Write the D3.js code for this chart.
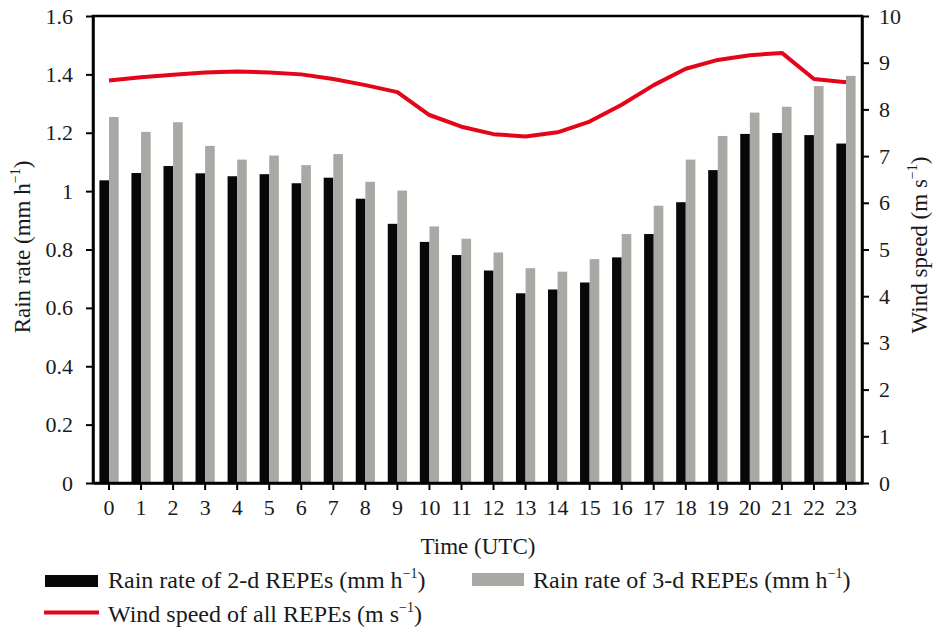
<!DOCTYPE html>
<html>
<head>
<meta charset="utf-8">
<script src="https://cdn.jsdelivr.net/npm/d3@7"></script>
<style>
  body { margin: 0; background: #fff; }
</style>
</head>
<body>
<svg id="chart" width="933" height="628"></svg>
<script>
// hours (UTC)
let hours = d3.range(0, 24);
// rain rate of 2-d REPEs (mm/h)
let rain2d = [1.037, 1.062, 1.086, 1.061, 1.051, 1.058, 1.027, 1.046, 0.974, 0.888, 0.826, 0.781,
              0.728, 0.650, 0.663, 0.687, 0.773, 0.853, 0.962, 1.072, 1.196, 1.199, 1.192, 1.163];
// rain rate of 3-d REPEs (mm/h)
let rain3d = [1.254, 1.203, 1.236, 1.155, 1.108, 1.122, 1.089, 1.127, 1.032, 1.002, 0.879, 0.837,
              0.790, 0.736, 0.724, 0.767, 0.853, 0.950, 1.108, 1.189, 1.269, 1.289, 1.360, 1.395];
// wind speed of all REPEs (m/s)
let wind = [8.62, 8.69, 8.74, 8.79, 8.81, 8.79, 8.75, 8.65, 8.52, 8.37, 7.88, 7.63,
            7.47, 7.42, 7.51, 7.74, 8.10, 8.52, 8.87, 9.06, 9.16, 9.21, 8.65, 8.58];
let rainTicks = [0, 0.2, 0.4, 0.6, 0.8, 1, 1.2, 1.4, 1.6];
let windTicks = d3.range(0, 11);

let svg = d3.select("#chart");
let mLeft = 93, mRight = 862, mTop = 16, mBottom = 483;

let x = d3.scaleBand().domain(hours).range([mLeft, mRight]);
let yL = d3.scaleLinear().domain([0, 1.6]).range([mBottom, mTop]);
let yR = d3.scaleLinear().domain([0, 10]).range([mBottom, mTop]);
let bw = x.bandwidth() * 0.3; // bar width

let fmt = d => (d === 0 || d === 1) ? String(d) : d3.format(".1f")(d);

// bars
svg.selectAll(".b2")
  .data(hours)
  .enter()
  .append("rect")
  .attr("class", "b2")
  .attr("fill", "#080808")
  .attr("x", d => x(d) + x.bandwidth() / 2 - bw)
  .attr("width", bw)
  .attr("y", (d, i) => yL(rain2d[i]))
  .attr("height", (d, i) => mBottom - yL(rain2d[i]));

svg.selectAll(".b3")
  .data(hours)
  .enter()
  .append("rect")
  .attr("class", "b3")
  .attr("fill", "#a9a8a4")
  .attr("x", d => x(d) + x.bandwidth() / 2)
  .attr("width", bw)
  .attr("y", (d, i) => yL(rain3d[i]))
  .attr("height", (d, i) => mBottom - yL(rain3d[i]));

// wind line
let line = d3.line()
  .x((d, i) => x(hours[i]) + x.bandwidth() / 2)
  .y(d => yR(d));

svg.append("path")
  .datum(wind)
  .attr("fill", "none")
  .attr("stroke", "#e3061b")
  .attr("stroke-width", 4)
  .attr("stroke-linejoin", "round")
  .attr("d", line);

// axes
let axL = svg.append("g")
  .attr("transform", `translate(${mLeft},0)`)
  .call(d3.axisLeft(yL).tickValues(rainTicks).tickFormat(fmt).tickSize(7).tickSizeOuter(0).tickPadding(13));

let axR = svg.append("g")
  .attr("transform", `translate(${mRight},0)`)
  .call(d3.axisRight(yR).tickValues(windTicks).tickSize(7).tickSizeOuter(0).tickPadding(10));

let axB = svg.append("g")
  .attr("transform", `translate(0,${mBottom})`)
  .call(d3.axisBottom(x).tickSize(7).tickSizeOuter(0).tickPadding(9));

[axL, axR, axB].forEach(g => {
  g.selectAll("text").attr("fill", "#1a1a1a").attr("class", "tick-label");
  g.selectAll("line").attr("stroke", "#000").attr("stroke-width", 2);
  g.select(".domain").attr("stroke", "#000").attr("stroke-width", 2.5);
});

// frame
svg.append("rect")
  .attr("x", mLeft).attr("y", mTop)
  .attr("width", mRight - mLeft).attr("height", mBottom - mTop)
  .attr("fill", "none").attr("stroke", "#000").attr("stroke-width", 2.5);

// titles
function supText(g, main, sup, tail) {
  g.attr("fill", "#1a1a1a");
  g.append("tspan").text(main);
  g.append("tspan").text(sup).attr("class", "sup").attr("dy", -10);
  g.append("tspan").text(tail).attr("dy", 10);
}

let tl = svg.append("text")
  .attr("transform", "translate(30,247) rotate(-90)")
  .attr("text-anchor", "middle");
supText(tl, "Rain rate (mm h", "−1", ")");

let tr = svg.append("text")
  .attr("transform", "translate(927,245) rotate(-90)")
  .attr("text-anchor", "middle");
supText(tr, "Wind speed (m s", "−1", ")");

svg.append("text")
  .attr("x", 478).attr("y", 554)
  .attr("text-anchor", "middle")
  .attr("fill", "#1a1a1a")
  .text("Time (UTC)");

// legend
let legend = svg.append("g");
legend.append("rect").attr("x", 45).attr("y", 575).attr("width", 53).attr("height", 12).attr("fill", "#080808");
supText(legend.append("text").attr("x", 108).attr("y", 588).attr("class", "leg"),
  "Rain rate of 2-d REPEs (mm h", "−1", ")");
legend.append("rect").attr("x", 472).attr("y", 573).attr("width", 52).attr("height", 13).attr("fill", "#a9a8a4");
supText(legend.append("text").attr("x", 533).attr("y", 588).attr("class", "leg"),
  "Rain rate of 3-d REPEs (mm h", "−1", ")");
legend.append("line").attr("x1", 44).attr("x2", 99).attr("y1", 612.5).attr("y2", 612.5)
  .attr("stroke", "#e3061b").attr("stroke-width", 4);
supText(legend.append("text").attr("x", 108).attr("y", 622).attr("class", "leg"),
  "Wind speed of all REPEs (m s", "−1", ")");

// serif font on every text
svg.selectAll("text")
  .style("font-family", "'Liberation Serif'")
  .style("font-size", "23px");
svg.selectAll(".leg").style("font-size", "24px");
svg.selectAll(".tick-label").style("font-size", "22px");
svg.selectAll(".sup").style("font-size", "14px");
</script>
</body>
</html>
